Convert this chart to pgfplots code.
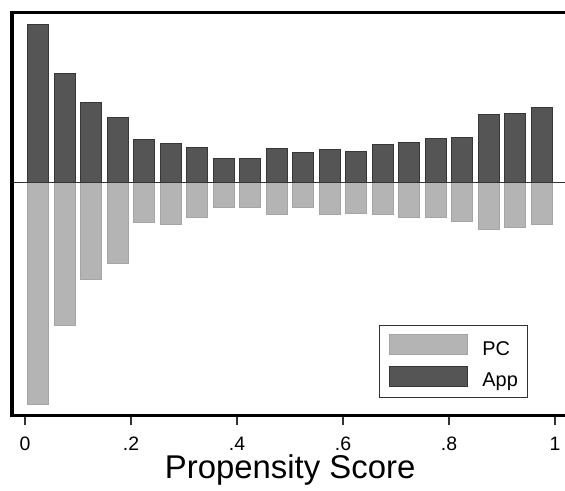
\documentclass[border=0pt]{standalone}
\usepackage{fontspec}
\setmainfont{Liberation Sans}
\usepackage{pgfplots}
\pgfplotsset{compat=1.18}
\definecolor{appfill}{RGB}{85,85,85}
\definecolor{appdraw}{RGB}{55,55,55}
\definecolor{pcfill}{RGB}{180,180,180}
\definecolor{pcdraw}{RGB}{165,165,165}
\newcommand\tickfont{\fontsize{19.5}{21}\selectfont}
\begin{document}
\begin{tikzpicture}
\begin{axis}[
  scale only axis, width=553bp, height=402bp,
  xmin=-0.0245, xmax=1.0189, ymin=-232.3, ymax=169.7,
  axis x line*=bottom, axis y line*=left,
  axis line style={draw=none, -},
  clip=false,
  xtick={0,0.2,0.4,0.6,0.8,1},
  xticklabels={0,.2,.4,.6,.8,1},
  xtick align=outside, major tick length=10bp,
  tick style={line width=1.2bp, color=black!80},
  ytick=\empty, ymajorticks=false,
  /pgf/number format/assume math mode=true,
  xticklabel style={font=\tickfont, inner sep=0pt, anchor=north, yshift=-11.5bp},
  xlabel={Propensity Score},
  xlabel style={at={(axis description cs:0.503,0)}, anchor=base, yshift=-63.5bp, font=\fontsize{33}{36}\selectfont, inner sep=0pt},
  legend style={at={(rel axis cs:0.6637,0.225)}, anchor=north west, draw=black!80, line width=0.8bp, fill=white,
    inner xsep=10bp, inner ysep=9.5bp, font=\fontsize{20}{22}\selectfont, row sep=9bp, column sep=14bp,
    nodes={inner sep=0pt}},
  legend cell align=left,
]
\addplot[ybar, bar width=0.04, bar shift=0pt, fill=pcfill, draw=pcdraw, line width=1bp,
  legend image code/.code={\draw[fill=pcfill, draw=pcdraw, line width=1bp] (0bp,-6bp) rectangle (78bp,14bp);}]
  coordinates {(0.025,-221.3) (0.075,-143.0) (0.125,-97.0) (0.175,-80.6) (0.225,-40.3)
  (0.275,-42.0) (0.325,-34.6) (0.375,-25.3) (0.425,-25.3) (0.475,-32.0)
  (0.525,-25.0) (0.575,-31.6) (0.625,-30.6) (0.675,-32.0) (0.725,-35.3)
  (0.775,-34.6) (0.825,-38.6) (0.875,-46.6) (0.925,-45.0) (0.975,-42.3)};
\addlegendentry{PC}
\addplot[ybar, bar width=0.04, bar shift=0pt, fill=appfill, draw=appdraw, line width=1bp,
  legend image code/.code={\draw[fill=appfill, draw=appdraw, line width=1bp] (0bp,-6bp) rectangle (78bp,14bp);}]
  coordinates {(0.025,157.7) (0.075,109.4) (0.125,79.7) (0.175,65.4) (0.225,42.7)
  (0.275,39.4) (0.325,35.0) (0.375,24.4) (0.425,23.7) (0.475,34.0)
  (0.525,30.4) (0.575,33.0) (0.625,31.4) (0.675,38.0) (0.725,39.7)
  (0.775,43.7) (0.825,45.0) (0.875,67.7) (0.925,69.4) (0.975,75.4)};
\addlegendentry{App}
\addplot[no marks, line width=1.3bp, color=black!80, forget plot] coordinates {(-0.0245,0) (1.0189,0)};
\draw[line width=3bp, line join=miter] (rel axis cs:1,1) -- (rel axis cs:0,1) -- (rel axis cs:0,0) -- (rel axis cs:1,0);
\end{axis}
\pgfresetboundingbox
\path[use as bounding box] ([shift={(-12bp,13bp)}]current axis.north west) rectangle ([shift={(0bp,-76bp)}]current axis.south east);
\end{tikzpicture}
\end{document}
